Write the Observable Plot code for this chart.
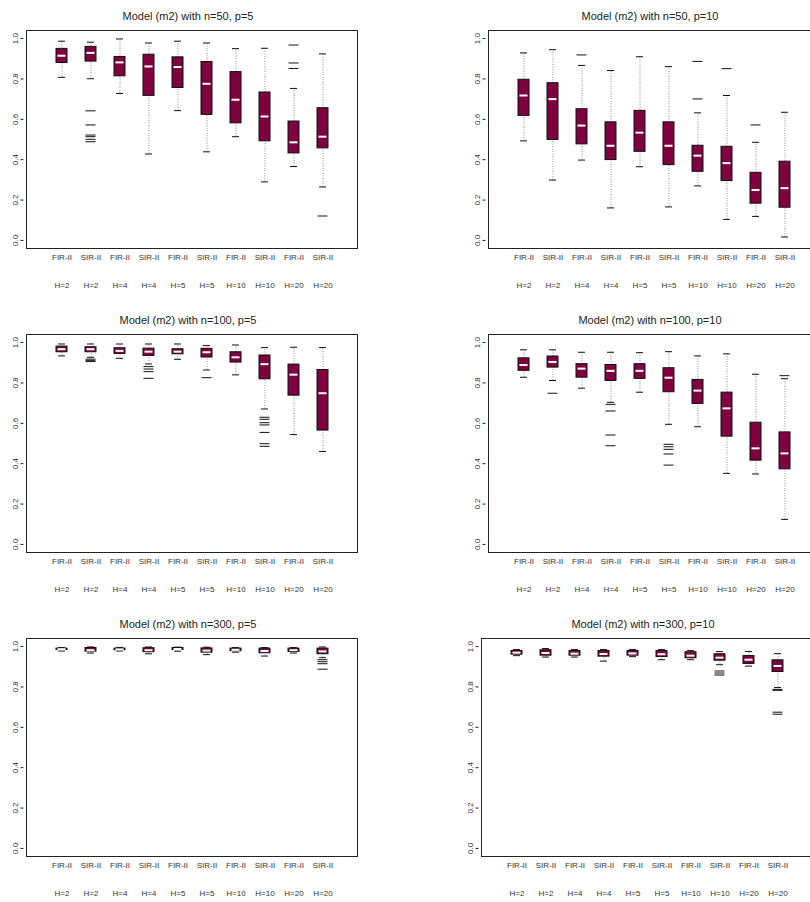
<!DOCTYPE html>
<html><head><meta charset="utf-8">
<script src="https://cdn.jsdelivr.net/npm/d3@7"></script>
<script src="https://cdn.jsdelivr.net/npm/@observablehq/plot@0.6"></script>
<style>
html,body{margin:0;padding:0;background:#fff;overflow:hidden;}
#wrap{position:relative;width:810px;height:902px;overflow:hidden;background:#fff;}
#wrap svg{position:absolute;max-width:none;}
</style></head><body><div id="wrap"></div>
<script>
// ---- categories / tick labels ----
const methods = ["FIR-II","SIR-II","FIR-II","SIR-II","FIR-II","SIR-II","FIR-II","SIR-II","FIR-II","SIR-II"];
const hLabels = ["H=2","H=2","H=4","H=4","H=5","H=5","H=10","H=10","H=20","H=20"];
const yTicks = [0, 0.2, 0.4, 0.6, 0.8, 1.0];
const titles = [
  "Model (m2) with n=50, p=5", "Model (m2) with n=50, p=10",
  "Model (m2) with n=100, p=5", "Model (m2) with n=100, p=10",
  "Model (m2) with n=300, p=5", "Model (m2) with n=300, p=10"
];

// ---- n=50, p=5 ----
const n50p5Lower  = [0.808, 0.801, 0.728, 0.428, 0.643, 0.439, 0.514, 0.290, 0.366, 0.265];
const n50p5Q1     = [0.879, 0.886, 0.813, 0.716, 0.755, 0.622, 0.580, 0.491, 0.431, 0.456];
const n50p5Median = [0.915, 0.929, 0.882, 0.862, 0.859, 0.776, 0.697, 0.614, 0.486, 0.514];
const n50p5Q3     = [0.949, 0.959, 0.909, 0.920, 0.907, 0.884, 0.834, 0.733, 0.589, 0.655];
const n50p5Upper  = [0.987, 0.982, 0.998, 0.978, 0.987, 0.978, 0.950, 0.952, 0.753, 0.924];
const n50p5Out    = [[], [0.642,0.572,0.522,0.514,0.501,0.489], [], [], [], [], [], [], [0.968,0.879,0.852], [0.121]];

// ---- n=50, p=10 ----
const n50p10Lower  = [0.493, 0.299, 0.398, 0.161, 0.365, 0.166, 0.270, 0.104, 0.119, 0.017];
const n50p10Q1     = [0.617, 0.498, 0.476, 0.398, 0.439, 0.373, 0.340, 0.294, 0.182, 0.162];
const n50p10Median = [0.718, 0.700, 0.569, 0.469, 0.534, 0.469, 0.420, 0.383, 0.250, 0.259];
const n50p10Q3     = [0.796, 0.779, 0.650, 0.585, 0.642, 0.585, 0.469, 0.464, 0.335, 0.390];
const n50p10Upper  = [0.929, 0.945, 0.867, 0.842, 0.910, 0.861, 0.632, 0.718, 0.486, 0.635];
const n50p10Out    = [[], [], [0.919], [], [], [], [0.887,0.701], [0.851], [0.572], []];

// ---- n=100, p=5 ----
const n100p5Lower  = [0.934, 0.927, 0.922, 0.894, 0.917, 0.864, 0.840, 0.671, 0.544, 0.460];
const n100p5Q1     = [0.952, 0.952, 0.944, 0.934, 0.942, 0.926, 0.901, 0.818, 0.737, 0.564];
const n100p5Median = [0.967, 0.967, 0.959, 0.955, 0.955, 0.952, 0.927, 0.893, 0.841, 0.749];
const n100p5Q3     = [0.980, 0.977, 0.972, 0.970, 0.967, 0.969, 0.952, 0.936, 0.891, 0.864];
const n100p5Upper  = [0.993, 0.993, 0.993, 0.993, 0.993, 0.985, 0.988, 0.975, 0.977, 0.975];
const n100p5Out    = [[], [0.918,0.912,0.906], [], [0.881,0.869,0.856,0.823], [], [0.826], [], [0.630,0.620,0.603,0.592,0.555,0.499,0.486], [], []];

// ---- n=100, p=10 ----
const n100p10Lower  = [0.828, 0.812, 0.774, 0.704, 0.754, 0.595, 0.583, 0.352, 0.349, 0.124];
const n100p10Q1     = [0.860, 0.876, 0.826, 0.810, 0.820, 0.754, 0.696, 0.534, 0.415, 0.372];
const n100p10Median = [0.889, 0.904, 0.871, 0.860, 0.860, 0.826, 0.762, 0.674, 0.476, 0.451];
const n100p10Q3     = [0.922, 0.931, 0.893, 0.889, 0.893, 0.873, 0.815, 0.752, 0.603, 0.555];
const n100p10Upper  = [0.964, 0.964, 0.952, 0.952, 0.950, 0.955, 0.934, 0.944, 0.843, 0.821];
const n100p10Out    = [[], [0.749], [], [0.694,0.661,0.542,0.489], [], [0.496,0.484,0.471,0.448,0.393], [], [], [], [0.836]];

// ---- n=300, p=5 ----
const n300p5Lower  = [0.978, 0.968, 0.978, 0.964, 0.977, 0.960, 0.972, 0.953, 0.968, 0.945];
const n300p5Q1     = [0.983, 0.975, 0.982, 0.972, 0.983, 0.970, 0.977, 0.967, 0.973, 0.962];
const n300p5Median = [0.987, 0.982, 0.986, 0.982, 0.988, 0.980, 0.984, 0.978, 0.982, 0.976];
const n300p5Q3     = [0.990, 0.993, 0.990, 0.992, 0.993, 0.991, 0.990, 0.990, 0.990, 0.990];
const n300p5Upper  = [0.995, 0.998, 0.996, 0.998, 0.997, 0.997, 0.995, 0.995, 0.995, 0.998];
const n300p5Out    = [[], [], [], [], [], [], [], [], [], [0.935,0.925,0.915,0.888]];

// ---- n=300, p=10 ----
const n300p10Lower  = [0.955, 0.948, 0.948, 0.928, 0.950, 0.935, 0.935, 0.910, 0.903, 0.797];
const n300p10Q1     = [0.960, 0.955, 0.955, 0.950, 0.955, 0.948, 0.942, 0.930, 0.914, 0.874];
const n300p10Median = [0.970, 0.968, 0.965, 0.963, 0.966, 0.962, 0.955, 0.945, 0.935, 0.904];
const n300p10Q3     = [0.978, 0.982, 0.978, 0.978, 0.978, 0.978, 0.972, 0.962, 0.953, 0.932];
const n300p10Upper  = [0.985, 0.990, 0.985, 0.985, 0.985, 0.985, 0.980, 0.975, 0.976, 0.965];
const n300p10Out    = [[], [], [], [], [], [], [], [0.879,0.869,0.859], [], [0.788,0.783,0.675,0.665]];

const panels = [
  {title: titles[0], lower: n50p5Lower, q1: n50p5Q1, median: n50p5Median, q3: n50p5Q3, upper: n50p5Upper, out: n50p5Out, left: 0, top: 0, ml: 26, w: 405},
  {title: titles[1], lower: n50p10Lower, q1: n50p10Q1, median: n50p10Median, q3: n50p10Q3, upper: n50p10Upper, out: n50p10Out, left: 405, top: 0, ml: 83, w: 420},
  {title: titles[2], lower: n100p5Lower, q1: n100p5Q1, median: n100p5Median, q3: n100p5Q3, upper: n100p5Upper, out: n100p5Out, left: 0, top: 304, ml: 26, w: 405},
  {title: titles[3], lower: n100p10Lower, q1: n100p10Q1, median: n100p10Median, q3: n100p10Q3, upper: n100p10Upper, out: n100p10Out, left: 405, top: 304, ml: 83, w: 420},
  {title: titles[4], lower: n300p5Lower, q1: n300p5Q1, median: n300p5Median, q3: n300p5Q3, upper: n300p5Upper, out: n300p5Out, left: 0, top: 608, ml: 26, w: 405},
  {title: titles[5], lower: n300p10Lower, q1: n300p10Q1, median: n300p10Median, q3: n300p10Q3, upper: n300p10Upper, out: n300p10Out, left: 405, top: 608, ml: 76, w: 420}
];

const BOX = "#7f003f";
const FONT = "'Liberation Sans', Arial, Helvetica, sans-serif";
const wrap = document.getElementById("wrap");

for (const p of panels) {
  const rows = d3.range(10).map(i => ({i, lo: p.lower[i], q1: p.q1[i], med: p.median[i], q3: p.q3[i], hi: p.upper[i]}));
  const outs = rows.flatMap(r => p.out[r.i].map(v => ({i: r.i, v})));
  const svg = Plot.plot({
    width: p.w,
    height: 300,
    marginLeft: p.ml,
    marginRight: p.w - p.ml - 331,
    marginTop: 30,
    marginBottom: 52,
    style: {fontFamily: FONT, background: "transparent", color: "#222", overflow: "visible"},
    x: {type: "band", domain: d3.range(10), paddingInner: 0.63, paddingOuter: 0.9, align: 0.5, axis: null},
    y: {domain: [-0.04, 1.04], axis: null},
    marks: [
      Plot.ruleX(rows, {x: "i", y1: "q3", y2: "hi", stroke: "#8a8a8a", strokeWidth: 1, strokeDasharray: "1,1.5"}),
      Plot.ruleX(rows, {x: "i", y1: "lo", y2: "q1", stroke: "#8a8a8a", strokeWidth: 1, strokeDasharray: "1,1.5"}),
      Plot.tickY(rows, {x: "i", y: "hi", stroke: "#111", strokeWidth: 1, inset: 2}),
      Plot.tickY(rows, {x: "i", y: "lo", stroke: "#111", strokeWidth: 1, inset: 2}),
      Plot.barY(rows, {x: "i", y1: "q1", y2: "q3", fill: BOX, stroke: "#111", strokeWidth: 1}),
      Plot.tickY(rows, {x: "i", y: "med", stroke: "#fff", strokeWidth: 2, inset: 1.5}),
      Plot.tickY(outs, {x: "i", y: "v", stroke: "#111", strokeWidth: 1, inset: 0.5}),
      Plot.frame({stroke: "#222", strokeWidth: 1}),
      Plot.axisY({ticks: yTicks, tickFormat: d3.format(".1f"), tickRotate: -90, tickSize: 3, tickPadding: 3, dx: -2.5, fontSize: 8, label: null, stroke: "#222", fill: "#333"}),
      Plot.axisX({tickSize: 0, tickPadding: 6, tickFormat: i => methods[i], fontSize: 8, label: null, fill: "#333"}),
      Plot.axisX({tickSize: 0, tickPadding: 34, tickFormat: i => hLabels[i], fontSize: 8, label: null, fill: "#333"}),
      Plot.text([p.title], {text: d => d, frameAnchor: "top", dy: -18, dx: -4, fontSize: 11, fill: "#222"})
    ]
  });
  svg.style.left = p.left + "px";
  svg.style.top = p.top + "px";
  wrap.appendChild(svg);
}
</script>
</body></html>
